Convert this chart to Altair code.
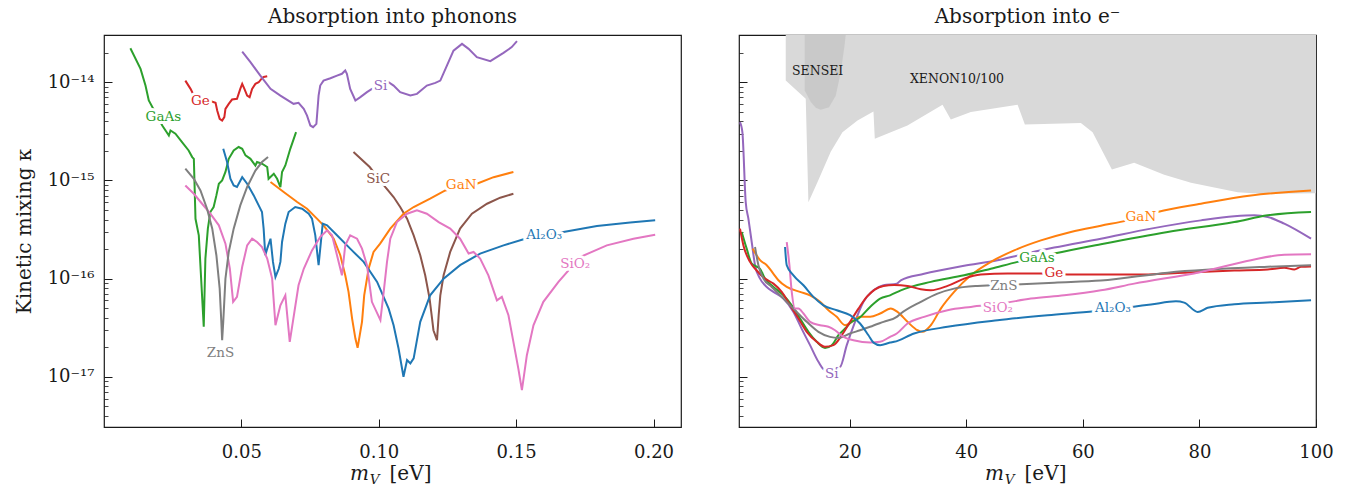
import altair as alt
import pandas as pd

SERIF = "DejaVu Serif"
INK = "#1a1a1a"
W, H = 577, 392

MATS = ["Al2O3", "GaN", "GaAs", "Ge", "Si", "SiC", "SiO2", "ZnS"]
COLORS = ["#1f77b4", "#ff7f0e", "#2ca02c", "#d62728", "#9467bd", "#8c564b", "#e377c2", "#7f7f7f"]

# shared kinetic-mixing axis
Y_DOM = [3.08e-18, 3.03e-14]
Y_MAJOR = [1e-17, 1e-16, 1e-15, 1e-14]
Y_MINOR = [4e-18, 5e-18, 6e-18, 7e-18, 8e-18, 9e-18,
           2e-17, 3e-17, 4e-17, 5e-17, 6e-17, 7e-17, 8e-17, 9e-17,
           2e-16, 3e-16, 4e-16, 5e-16, 6e-16, 7e-16, 8e-16, 9e-16,
           2e-15, 3e-15, 4e-15, 5e-15, 6e-15, 7e-15, 8e-15, 9e-15,
           2e-14]
Y_LABEL_EXPR = ("datum.value < 5e-17 ? '10⁻¹⁷' : datum.value < 5e-16 ? '10⁻¹⁶' : "
                "datum.value < 5e-15 ? '10⁻¹⁵' : '10⁻¹⁴'")

# ---------------- absorption into phonons: m_V [eV] vs kappa ----------------
ph_GaAs_m = [0.0096, 0.0133, 0.0151, 0.0163, 0.0212, 0.0236, 0.0242, 0.0260, 0.0284, 0.0308,
             0.0321, 0.0327, 0.0333, 0.0345, 0.0363, 0.0369, 0.0378, 0.0387, 0.0399, 0.0409,
             0.0418, 0.0430, 0.0442, 0.0454, 0.0472, 0.0490, 0.0503, 0.0515, 0.0533, 0.0551,
             0.0557, 0.0575, 0.0594, 0.0599, 0.0618, 0.0630, 0.0642, 0.0648, 0.0660, 0.0678,
             0.0699]
ph_GaAs_k = [2.22e-14, 1.37e-14, 9.26e-15, 6.52e-15, 3.63e-15, 2.87e-15, 3.23e-15, 2.99e-15, 2.46e-15, 2.02e-15,
             1.73e-15, 1.66e-15, 4.07e-16, 2.76e-16, 3.23e-17, 1.60e-16, 3.23e-16, 4.77e-16, 5.36e-16, 7.04e-16,
             9.26e-16, 1.00e-15, 1.22e-15, 1.66e-15, 2.02e-15, 2.19e-15, 2.10e-15, 1.80e-15, 1.66e-15, 1.42e-15,
             1.54e-15, 1.48e-15, 1.37e-15, 1.04e-15, 1.17e-15, 1.04e-15, 8.57e-16, 1.22e-15, 1.42e-15, 2.10e-15,
             3.11e-15]

ph_Ge_m = [0.0296, 0.0315, 0.0326, 0.0381, 0.0406, 0.0412, 0.0421, 0.0430, 0.0438, 0.0442,
           0.0454, 0.0466, 0.0484, 0.0496, 0.0503, 0.0511, 0.0521, 0.0530, 0.0539, 0.0551,
           0.0563, 0.0575, 0.0581, 0.0594]
ph_Ge_k = [1.04e-14, 8.57e-15, 7.44e-15, 6.52e-15, 6.17e-15, 5.15e-15, 4.24e-15, 4.08e-15, 4.42e-15, 5.36e-15,
           6.03e-15, 6.67e-15, 6.78e-15, 8.57e-15, 9.63e-15, 8.57e-15, 7.32e-15, 7.05e-15, 8.57e-15, 9.63e-15,
           1.00e-14, 1.10e-14, 1.13e-14, 1.15e-14]

ph_Si_m = [0.0503, 0.0533, 0.0569, 0.0606, 0.0642, 0.0690, 0.0708, 0.0727, 0.0739, 0.0751,
           0.0761, 0.0773, 0.0781, 0.0787, 0.0799, 0.0824, 0.0848, 0.0866, 0.0878, 0.0884,
           0.0896, 0.0915, 0.0933, 0.0957, 0.0975, 0.1030, 0.1036, 0.1054, 0.1078, 0.1115,
           0.1139, 0.1175, 0.1206, 0.1224, 0.1248, 0.1272, 0.1303, 0.1327, 0.1357, 0.1406,
           0.1454, 0.1484, 0.1503]
ph_Si_k = [2.05e-14, 1.60e-14, 1.17e-14, 8.57e-15, 7.32e-15, 6.03e-15, 6.17e-15, 5.36e-15, 4.58e-15, 3.63e-15,
           3.49e-15, 3.77e-15, 7.32e-15, 9.26e-15, 1.04e-14, 1.10e-14, 1.17e-14, 1.22e-14, 1.32e-14, 1.22e-14,
           8.57e-15, 6.52e-15, 7.05e-15, 7.93e-15, 8.57e-15, 9.63e-15, 1.00e-14, 9.26e-15, 7.93e-15, 7.32e-15,
           7.62e-15, 9.26e-15, 9.86e-15, 1.04e-14, 1.48e-14, 2.10e-14, 2.46e-14, 2.19e-14, 1.80e-14, 1.64e-14,
           1.99e-14, 2.28e-14, 2.62e-14]

ph_SiC_m = [0.0908, 0.0967, 0.1024, 0.1054, 0.1078, 0.1103, 0.1127, 0.1151, 0.1169, 0.1185,
            0.1194, 0.1199, 0.1212, 0.1218, 0.1224, 0.1236, 0.1260, 0.1296, 0.1339, 0.1394,
            0.1442, 0.1490]
ph_SiC_k = [1.95e-15, 1.37e-15, 8.57e-16, 6.78e-16, 5.36e-16, 4.08e-16, 2.76e-16, 1.73e-16, 1.08e-16, 6.26e-17,
            3.92e-17, 2.98e-17, 2.36e-17, 4.24e-17, 6.76e-17, 1.08e-16, 1.87e-16, 3.23e-16, 4.58e-16, 5.79e-16,
            6.67e-16, 7.32e-16]

ph_GaN_m = [0.0606, 0.0654, 0.0703, 0.0739, 0.0775, 0.0799, 0.0836, 0.0860, 0.0878, 0.0890,
            0.0903, 0.0915, 0.0923, 0.0939, 0.0947, 0.0963, 0.0981, 0.1005, 0.1042, 0.1090,
            0.1127, 0.1187, 0.1242, 0.1357, 0.1418, 0.1490]
ph_GaN_k = [9.63e-16, 7.62e-16, 6.03e-16, 5.15e-16, 4.08e-16, 3.49e-16, 2.55e-16, 1.73e-16, 1.08e-16, 7.32e-17,
            3.92e-17, 2.45e-17, 1.97e-17, 3.63e-17, 6.76e-17, 1.26e-16, 1.87e-16, 2.27e-16, 3.23e-16, 4.58e-16,
            5.36e-16, 6.52e-16, 7.91e-16, 9.26e-16, 1.08e-15, 1.22e-15]

ph_Al2O3_m = [0.0434, 0.0448, 0.0460, 0.0472, 0.0484, 0.0503, 0.0521, 0.0545, 0.0563, 0.0575,
              0.0581, 0.0587, 0.0594, 0.0606, 0.0615, 0.0624, 0.0636, 0.0642, 0.0648, 0.0660,
              0.0672, 0.0696, 0.0721, 0.0745, 0.0757, 0.0769, 0.0781, 0.0787, 0.0796, 0.0812,
              0.0848, 0.0896, 0.0945, 0.0994, 0.1036, 0.1054, 0.1072, 0.1090, 0.1103, 0.1115,
              0.1127, 0.1151, 0.1187, 0.1236, 0.1296, 0.1369, 0.1454, 0.1533, 0.1672, 0.1794,
              0.1915, 0.2006]
ph_Al2O3_k = [2.10e-15, 1.54e-15, 1.04e-15, 8.89e-16, 8.57e-16, 1.08e-15, 9.26e-16, 7.04e-16, 5.57e-16, 4.77e-16,
              3.23e-16, 1.73e-16, 2.02e-16, 2.55e-16, 1.48e-16, 1.04e-16, 1.26e-16, 1.48e-16, 2.36e-16, 3.63e-16,
              4.77e-16, 5.36e-16, 5.15e-16, 4.58e-16, 4.08e-16, 2.76e-16, 1.37e-16, 2.02e-16, 3.63e-16, 3.49e-16,
              2.76e-16, 2.02e-16, 1.48e-16, 9.26e-17, 4.95e-17, 3.35e-17, 1.94e-17, 1.00e-17, 1.48e-17, 1.37e-17,
              1.54e-17, 3.63e-17, 6.76e-17, 1.00e-16, 1.37e-16, 1.80e-16, 2.18e-16, 2.55e-16, 2.99e-16, 3.44e-16,
              3.72e-16, 3.92e-16]

ph_SiO2_m = [0.0296, 0.0327, 0.0357, 0.0387, 0.0418, 0.0442, 0.0458, 0.0470, 0.0484, 0.0503,
             0.0521, 0.0539, 0.0557, 0.0575, 0.0594, 0.0612, 0.0624, 0.0642, 0.0660, 0.0676,
             0.0693, 0.0708, 0.0727, 0.0757, 0.0787, 0.0812, 0.0830, 0.0848, 0.0866, 0.0878,
             0.0896, 0.0921, 0.0939, 0.0957, 0.0975, 0.1006, 0.1018, 0.1030, 0.1042, 0.1066,
             0.1103, 0.1139, 0.1175, 0.1218, 0.1260, 0.1296, 0.1327, 0.1345, 0.1369, 0.1399,
             0.1430, 0.1448, 0.1472, 0.1490, 0.1508, 0.1521, 0.1539, 0.1563, 0.1599, 0.1654,
             0.1733, 0.1830, 0.1927, 0.2006]
ph_SiO2_k = [8.89e-16, 7.32e-16, 5.79e-16, 4.58e-16, 3.49e-16, 2.27e-16, 1.26e-16, 5.80e-17, 6.52e-17, 1.32e-16,
             2.18e-16, 2.55e-16, 2.36e-16, 2.10e-16, 1.60e-16, 1.00e-16, 3.35e-17, 5.35e-17, 6.76e-17, 2.27e-17,
             4.58e-17, 8.55e-17, 1.26e-16, 1.94e-16, 2.66e-16, 3.10e-16, 2.76e-16, 1.73e-16, 1.08e-16, 2.18e-16,
             2.76e-16, 2.55e-16, 2.02e-16, 1.37e-16, 5.80e-17, 3.77e-17, 7.32e-17, 1.48e-16, 2.55e-16, 3.77e-16,
             4.58e-16, 4.95e-16, 4.58e-16, 3.77e-16, 3.23e-16, 2.55e-16, 1.80e-16, 1.87e-16, 1.60e-16, 1.08e-16,
             6.01e-17, 6.52e-17, 4.24e-17, 2.27e-17, 1.21e-17, 7.31e-18, 1.66e-17, 3.35e-17, 5.80e-17, 9.26e-17,
             1.66e-16, 2.18e-16, 2.55e-16, 2.80e-16]

ph_ZnS_m = [0.0296, 0.0327, 0.0351, 0.0375, 0.0394, 0.0409, 0.0421, 0.0427, 0.0430, 0.0434,
            0.0442, 0.0454, 0.0472, 0.0496, 0.0521, 0.0551, 0.0575, 0.0597]
ph_ZnS_k = [1.32e-15, 1.04e-15, 7.91e-16, 5.15e-16, 3.23e-16, 1.73e-16, 7.91e-17, 3.63e-17, 2.36e-17, 3.63e-17,
            1.00e-16, 1.87e-16, 3.23e-16, 5.57e-16, 8.57e-16, 1.26e-15, 1.54e-15, 1.73e-15]

ph_lab_mat = ["GaAs", "Ge", "Si", "SiC", "GaN", "Al2O3", "SiO2", "ZnS"]
ph_lab_text = ["GaAs", "Ge", "Si", "SiC", "GaN", "Al₂O₃", "SiO₂", "ZnS"]
ph_lab_m = [0.0216, 0.0351, 0.1006, 0.0998, 0.1300, 0.1602, 0.1715, 0.0424]
ph_lab_k = [4.45e-15, 6.47e-15, 9.19e-15, 1.04e-15, 9.04e-16, 2.80e-16, 1.42e-16, 1.73e-17]

# ---------------- absorption into electrons: m_V [eV] vs kappa ----------------
el_Si_m = [1.17, 1.58, 2.15, 2.61, 3.18, 3.75, 4.61, 5.76, 6.91, 8.62,
           10.34, 11.76, 13.19, 14.63, 15.76, 18.34, 19.49, 20.91, 22.36, 24.07,
           25.79, 28.07, 28.76, 32.76, 39.63, 45.36, 49.36, 55.08, 63.09, 71.68,
           80.26, 85.98, 89.41, 91.71, 94.56, 99.15]
el_Si_k = [3.93e-15, 3.11e-15, 6.03e-16, 4.08e-16, 2.36e-16, 1.37e-16, 1.00e-16, 8.23e-17, 7.32e-17, 6.26e-17,
           4.58e-17, 3.08e-17, 2.10e-17, 1.42e-17, 1.17e-17, 1.26e-17, 2.10e-17, 3.63e-17, 5.80e-17, 7.60e-17,
           8.55e-17, 8.89e-17, 9.62e-17, 1.12e-16, 1.35e-16, 1.54e-16, 1.75e-16, 2.07e-16, 2.55e-16, 3.23e-16,
           3.92e-16, 4.31e-16, 4.41e-16, 4.25e-16, 3.63e-16, 2.55e-16]

el_GaN_m = [3.35, 4.61, 5.76, 6.91, 7.76, 9.19, 11.47, 13.19, 14.91, 16.35,
            17.77, 19.20, 20.35, 21.77, 23.49, 25.21, 27.04, 28.19, 29.91, 31.63,
            32.49, 33.91, 35.63, 37.91, 40.78, 44.21, 48.21, 52.80, 57.94, 63.09,
            67.68, 72.83, 80.26, 88.84, 99.15]
el_GaN_k = [2.02e-16, 1.54e-16, 1.37e-16, 1.12e-16, 9.62e-17, 8.23e-17, 7.32e-17, 6.76e-17, 5.80e-17, 4.76e-17,
            4.08e-17, 3.35e-17, 3.63e-17, 4.08e-17, 4.08e-17, 4.41e-17, 4.95e-17, 4.58e-17, 3.63e-17, 2.98e-17,
            2.87e-17, 3.35e-17, 4.95e-17, 7.32e-17, 1.08e-16, 1.48e-16, 1.94e-16, 2.45e-16, 2.99e-16, 3.46e-16,
            3.92e-16, 4.77e-16, 5.79e-16, 7.04e-16, 7.91e-16]

el_GaAs_m = [1.46, 2.32, 3.18, 4.61, 5.46, 6.91, 8.62, 10.05, 11.47, 12.91,
             14.34, 15.76, 16.91, 18.06, 19.20, 20.35, 21.50, 23.49, 25.21, 26.92,
             28.76, 33.91, 39.63, 44.21, 48.80, 55.08, 63.09, 74.55, 85.98, 91.71,
             99.15]
el_GaAs_k = [2.99e-16, 2.02e-16, 1.42e-16, 1.26e-16, 1.00e-16, 8.23e-17, 6.76e-17, 5.35e-17, 3.92e-17, 2.87e-17,
             2.27e-17, 1.97e-17, 2.10e-17, 2.65e-17, 3.10e-17, 3.63e-17, 3.92e-17, 5.15e-17, 6.26e-17, 6.76e-17,
             7.60e-17, 9.26e-17, 1.08e-16, 1.26e-16, 1.48e-16, 1.80e-16, 2.24e-16, 2.99e-16, 3.77e-16, 4.41e-16,
             4.77e-16]

el_Ge_m = [1.17, 1.76, 2.89, 4.04, 5.46, 6.91, 8.33, 9.76, 11.20, 12.62,
           14.34, 15.76, 17.20, 18.63, 20.06, 21.50, 22.92, 24.35, 25.79, 27.61,
           29.91, 32.19, 33.91, 36.78, 39.63, 42.49, 47.08, 52.80, 58.51, 63.09,
           68.81, 77.39, 85.98, 91.71, 94.56, 96.28, 97.43, 99.15]
el_Ge_k = [3.23e-16, 2.18e-16, 1.48e-16, 1.21e-16, 1.00e-16, 8.89e-17, 7.32e-17, 5.35e-17, 3.92e-17, 2.87e-17,
           2.27e-17, 2.02e-17, 2.10e-17, 2.65e-17, 3.63e-17, 4.95e-17, 6.52e-17, 7.78e-17, 8.43e-17, 8.63e-17,
           8.43e-17, 7.78e-17, 7.60e-17, 8.43e-17, 1.00e-16, 1.10e-16, 1.13e-16, 1.13e-16, 1.10e-16, 1.10e-16,
           1.10e-16, 1.15e-16, 1.21e-16, 1.24e-16, 1.29e-16, 1.24e-16, 1.32e-16, 1.33e-16]

el_ZnS_m = [3.75, 4.33, 5.19, 6.61, 8.62, 10.61, 12.62, 14.63, 16.62, 18.06,
            20.06, 21.77, 23.49, 25.79, 28.07, 28.76, 32.19, 35.06, 37.91, 41.93,
            48.21, 55.08, 63.09, 74.55, 91.71, 99.15]
el_ZnS_k = [2.10e-16, 1.37e-16, 1.00e-16, 8.23e-17, 6.26e-17, 4.76e-17, 3.63e-17, 2.87e-17, 2.55e-17, 2.49e-17,
            2.76e-17, 2.98e-17, 3.23e-17, 3.63e-17, 4.08e-17, 4.41e-17, 5.80e-17, 7.04e-17, 7.91e-17, 8.43e-17,
            8.69e-17, 9.10e-17, 9.55e-17, 1.15e-16, 1.32e-16, 1.37e-16]

el_SiO2_m = [9.19, 9.65, 10.05, 10.61, 11.20, 12.06, 13.19, 14.91, 16.35, 17.48,
             18.92, 20.64, 23.49, 25.21, 26.92, 28.07, 29.91, 32.76, 36.78, 40.78,
             45.93, 51.08, 56.80, 63.09, 68.81, 80.26, 88.84, 94.56, 99.15]
el_SiO2_k = [2.36e-16, 1.37e-16, 7.32e-17, 4.95e-17, 4.95e-17, 4.41e-17, 3.63e-17, 3.35e-17, 3.23e-17, 2.98e-17,
             2.55e-17, 2.36e-17, 2.23e-17, 2.27e-17, 2.55e-17, 2.76e-17, 3.49e-17, 4.08e-17, 4.76e-17, 5.15e-17,
             5.57e-17, 6.26e-17, 6.76e-17, 7.60e-17, 8.89e-17, 1.17e-16, 1.54e-16, 1.75e-16, 1.77e-16]

el_Al2O3_m = [8.90, 9.19, 10.34, 12.06, 13.77, 15.49, 17.77, 20.06, 21.77, 23.21,
              24.07, 25.21, 26.92, 27.61, 31.04, 36.78, 45.36, 53.94, 61.94, 71.68,
              75.97, 77.39, 79.70, 81.41, 85.98, 91.71, 99.15]
el_Al2O3_k = [2.10e-16, 1.37e-16, 1.08e-16, 8.55e-17, 6.52e-17, 5.35e-17, 4.76e-17, 4.24e-17, 3.49e-17, 2.65e-17,
              2.23e-17, 2.10e-17, 2.23e-17, 2.27e-17, 2.76e-17, 3.23e-17, 3.77e-17, 4.24e-17, 4.65e-17, 5.44e-17,
              5.88e-17, 5.70e-17, 4.58e-17, 5.04e-17, 5.48e-17, 5.70e-17, 6.01e-17]

el_lab_mat = ["GaN", "GaAs", "Ge", "ZnS", "SiO2", "Al2O3", "Si"]
el_lab_text = ["GaN", "GaAs", "Ge", "ZnS", "SiO₂", "Al₂O₃", "Si"]
el_lab_m = [69.96, 52.11, 55.03, 46.44, 45.41, 65.15, 16.91]
el_lab_k = [4.27e-16, 1.64e-16, 1.15e-16, 8.49e-17, 5.07e-17, 5.07e-17, 1.06e-17]

# excluded regions (lower edge of each shaded band)
xenon_m = [9.02, 12.45, 12.91, 14.46, 16.74, 18.75, 21.33, 24.07, 24.30, 29.90,
           35.92, 37.34, 40.78, 48.80, 50.05, 59.66, 61.67, 64.98, 68.80, 73.96,
           78.55, 86.56, 90.56, 100.0]
xenon_k = [1.04e-14, 6.78e-15, 6.00e-16, 9.60e-16, 1.96e-15, 3.10e-15, 4.07e-15, 5.04e-15, 2.66e-15, 3.63e-15,
           5.89e-15, 4.17e-15, 4.97e-15, 5.89e-15, 3.71e-15, 3.84e-15, 3.10e-15, 1.29e-15, 1.51e-15, 1.14e-15,
           9.50e-16, 7.60e-16, 7.30e-16, 7.40e-16]
sensei_m = [12.28, 13.31, 14.17, 15.03, 16.45, 17.60, 18.46, 19.03, 19.32]
sensei_k = [8.24e-15, 6.28e-15, 5.50e-15, 5.24e-15, 5.58e-15, 7.30e-15, 1.27e-14, 2.19e-14, 3.03e-14]
region_text = ["SENSEI", "XENON10/100"]
region_m = [14.5, 38.4]
region_k = [1.31e-14, 1.08e-14]
REGION_TOP = 1e-13


def curves(series):
    rows = []
    for mat, ms, ks in series:
        for i, (m, k) in enumerate(zip(ms, ks, strict=True)):
            rows.append({"mat": mat, "m": m, "k": k, "i": i})
    return pd.DataFrame(rows)


def label_table(mats, texts, ms, ks):
    return pd.DataFrame({"mat": mats, "text": texts, "m": ms, "k": ks})


phonon_df = curves([
    ("GaAs", ph_GaAs_m, ph_GaAs_k), ("Ge", ph_Ge_m, ph_Ge_k), ("Si", ph_Si_m, ph_Si_k),
    ("SiC", ph_SiC_m, ph_SiC_k), ("GaN", ph_GaN_m, ph_GaN_k), ("Al2O3", ph_Al2O3_m, ph_Al2O3_k),
    ("SiO2", ph_SiO2_m, ph_SiO2_k), ("ZnS", ph_ZnS_m, ph_ZnS_k),
])
electron_df = curves([
    ("Si", el_Si_m, el_Si_k), ("GaN", el_GaN_m, el_GaN_k), ("GaAs", el_GaAs_m, el_GaAs_k),
    ("Ge", el_Ge_m, el_Ge_k), ("ZnS", el_ZnS_m, el_ZnS_k), ("SiO2", el_SiO2_m, el_SiO2_k),
    ("Al2O3", el_Al2O3_m, el_Al2O3_k),
])
phonon_labels = label_table(ph_lab_mat, ph_lab_text, ph_lab_m, ph_lab_k)
electron_labels = label_table(el_lab_mat, el_lab_text, el_lab_m, el_lab_k)
xenon_df = pd.DataFrame({"m": xenon_m, "k": xenon_k, "top": REGION_TOP})
sensei_df = pd.DataFrame({"m": sensei_m, "k": sensei_k, "top": REGION_TOP})
region_labels = pd.DataFrame({"text": region_text, "m": region_m, "k": region_k})

COLOR = alt.Color("mat:N", scale=alt.Scale(domain=MATS, range=COLORS), legend=None)
NO_GUIDE = dict(domain=False, grid=False, title=None)


def xtitle_layers():
    """'m_V [eV]' written below the axis, with an italic m and subscript V."""
    one = alt.Data(values=[{}])
    c = W / 2
    return [
        alt.Chart(one).mark_text(font=SERIF, fontSize=20, fontStyle="italic", color=INK,
                                 align="center", baseline="alphabetic")
        .encode(x=alt.value(c - 33), y=alt.value(H + 53), text=alt.value("m")),
        alt.Chart(one).mark_text(font=SERIF, fontSize=13.5, fontStyle="italic", color=INK,
                                 align="center", baseline="alphabetic")
        .encode(x=alt.value(c - 18), y=alt.value(H + 57), text=alt.value("V")),
        alt.Chart(one).mark_text(font=SERIF, fontSize=20, color=INK,
                                 align="center", baseline="alphabetic")
        .encode(x=alt.value(c + 18), y=alt.value(H + 53), text=alt.value("[eV]")),
    ]


def panel(lines, labels, xdom, xticks, xfmt, title, ytitle=None, shaded=False, interp="linear"):
    xs = alt.Scale(domain=xdom, nice=False, zero=False)
    ys = alt.Scale(type="log", domain=Y_DOM, nice=False)
    x_plain = alt.X("m:Q", scale=xs, axis=None)
    y_plain = alt.Y("k:Q", scale=ys, axis=None)

    layers = []
    if shaded:
        layers.append(alt.Chart(xenon_df).mark_area(color="#d9d9d9", clip=True)
                      .encode(x=x_plain, y=y_plain, y2="top:Q"))
        layers.append(alt.Chart(sensei_df).mark_area(color="#a6a6a6", opacity=0.3, clip=True)
                      .encode(x=x_plain, y=y_plain, y2="top:Q"))
        layers.append(alt.Chart(region_labels).mark_text(font=SERIF, fontSize=12.5, color=INK)
                      .encode(x=x_plain, y=y_plain, text="text:N"))

    if ytitle:
        y_axis = alt.Axis(orient="left", values=Y_MAJOR, labelExpr=Y_LABEL_EXPR, ticks=False,
                          domain=False, grid=False, labelPadding=10, title=ytitle, titlePadding=13)
    else:
        y_axis = None

    # curves, carrying the tick labels
    layers.append(alt.Chart(lines).mark_line(strokeWidth=2, clip=True, interpolate=interp).encode(
        x=alt.X("m:Q", scale=xs,
                axis=alt.Axis(orient="bottom", values=xticks, format=xfmt, ticks=False,
                              labelPadding=16, labelFlush=False, **NO_GUIDE)),
        y=alt.Y("k:Q", scale=ys, axis=y_axis),
        color=COLOR, order="i:Q"))

    # inward-pointing major ticks (bottom and left edges)
    layers.append(alt.Chart(lines).mark_point(opacity=0).encode(
        x=alt.X("m:Q", scale=xs,
                axis=alt.Axis(orient="top", offset=-H, values=xticks, labels=False, tickSize=8,
                              tickColor=INK, tickWidth=1, **NO_GUIDE)),
        y=alt.Y("k:Q", scale=ys,
                axis=alt.Axis(orient="right", offset=-W, values=Y_MAJOR, labels=False, tickSize=8,
                              tickColor=INK, tickWidth=1, **NO_GUIDE))))
    # inward-pointing minor ticks on the log axis
    layers.append(alt.Chart(lines).mark_point(opacity=0).encode(
        x=x_plain,
        y=alt.Y("k:Q", scale=ys,
                axis=alt.Axis(orient="right", offset=-W, values=Y_MINOR, labels=False, tickSize=4,
                              tickColor=INK, tickWidth=0.8, **NO_GUIDE))))

    # in-line curve labels on a white halo
    layers.append(alt.Chart(labels).mark_text(font=SERIF, fontSize=13.5, fill="white", stroke="white",
                                              strokeWidth=6, strokeJoin="round")
                  .encode(x=x_plain, y=y_plain, text="text:N"))
    layers.append(alt.Chart(labels).mark_text(font=SERIF, fontSize=13.5)
                  .encode(x=x_plain, y=y_plain, text="text:N", color=COLOR))

    layers += xtitle_layers()

    return (alt.layer(*layers)
            .resolve_axis(x="independent", y="independent")
            .properties(width=W, height=H,
                        title=alt.TitleParams(title, font=SERIF, fontSize=20, fontWeight="normal",
                                              color=INK, offset=8)))


left = panel(phonon_df, phonon_labels, [0.0, 0.21], [0.05, 0.10, 0.15, 0.20], ".2f",
             "Absorption into phonons", ytitle="Kinetic mixing κ")
right = panel(electron_df, electron_labels, [1.0, 100.0], [20, 40, 60, 80, 100], "d",
              "Absorption into e⁻", shaded=True, interp="monotone")

chart = (alt.hconcat(left, right, spacing=54)
         .properties(padding={"left": 13, "top": 6, "right": 5, "bottom": 5})
         .configure_view(stroke=INK, strokeWidth=1.2)
         .configure_axis(labelFont=SERIF, labelFontSize=18, labelColor=INK,
                         titleFont=SERIF, titleFontSize=20, titleColor=INK, titleFontWeight="normal")
         .configure_title(font=SERIF, fontSize=20, fontWeight="normal", color=INK, anchor="middle"))

chart.save("out.html", embed_options={"renderer": "svg", "actions": False})
